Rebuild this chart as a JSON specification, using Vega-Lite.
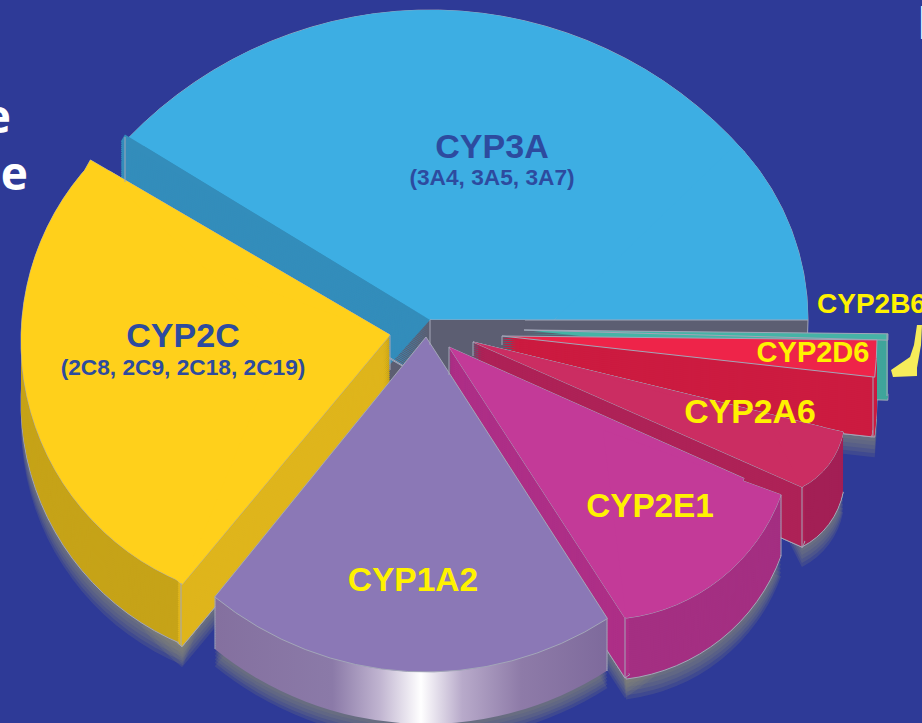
{
"$schema":"https://vega.github.io/schema/vega-lite/v6.json",
"width":922,"height":723,"padding":0,"autosize":"none","background":"#2E3A97",
"config":{"view":{"stroke":null}},
"params":[
{"name":"geo","value":{
"blueA":[430,429.3,419.3,0],"blueB":[554,320,254,0],
"grey1":[430,320,378,0],"grey2":[430,320,95,0],
"blueWide":[430,320,335,0],"blueFar":[430,320,357,62],
"teal":[524,330,364,60],"tealBack":[524,330,350,0],
"red":[502,336,375,60],"redCutN":[502,336,130,60],"redCutF":[502,336,372,60],
"crimCore":[473,342,360,60],"crimTop":[473,342,381,60],"crimLobe":[766.5,417.5,78,60],"crimCutN":[473,342,130,60],"crimCutF":[473,342,360,60],
"magCore":[449,347,323,60],"magLobe":[603,430,189.5,61],"magCutN":[449,347,130,60],"magCutF":[449,347,323,60],
"yelCore":[390,335,325,62],"yelTop":[390,335,347,62],"yelLobe":[282,341,261,62],"yelCutN":[390,335,130,62],"yelCutF":[390,335,325,62],
"purple":[426,337,335,52]
}},
{"name":"edge","value":{
"CYP2C corner":[181,583,63],"CYP2C apex":[390,335,35],
"CYP1A2 left":[215,597,52],"CYP1A2 right":[607,619,52],
"CYP2E1 corner":[625,618,60],"CYP2E1 right":[781,495,61],"CYP2E1 apex":[449,347,28],
"CYP2A6 corner":[802,487,60],"CYP2A6 apex":[473,342,14],
"CYP2D6 corner":[873,377,60],"CYP2D6 apex":[502,336,9],
"CYP2B6 right":[887,334,62],
"CYP3A left":[125,137,45],"CYP3A apex":[430,320,25]
}},
{"name":"lab","value":{
"CYP3A":[492,148,34,"#2D4B9F","center","Liberation Sans"],
"(3A4, 3A5, 3A7)":[492,178,22.7,"#2D4B9F","center","Liberation Sans"],
"CYP2C":[183,337,34,"#2D4B9F","center","Liberation Sans"],
"(2C8, 2C9, 2C18, 2C19)":[183,368,22.7,"#2D4B9F","center","Liberation Sans"],
"CYP1A2":[413,581,33.5,"#FFF200","center","Liberation Sans"],
"CYP2E1":[650,507,33.3,"#FFF200","center","Liberation Sans"],
"CYP2A6":[750,413,33.8,"#FFF200","center","Liberation Sans"],
"CYP2D6":[813,353,29,"#FFF200","center","Liberation Sans"],
"CYP2B6":[817,305,28,"#FFF200","left","Liberation Sans"],
"e":[11,119,46,"#FFFFFF","right","Open Sans"],
"se":[28,176,46,"#FFFFFF","right","Open Sans"],
"I":[917,25,46,"#FFFFFF","left","Open Sans"]
}}
],
"datasets":{
"shadow":[
{"piece":"yelLobe","start":202.3,"end":313.3,"steps":[20,19,18,17,16]},
{"piece":"yelCore","start":219.8,"end":230,"steps":[20,19,18,17,16]},
{"piece":"purple","start":147.2,"end":219.1,"steps":[20,19,18,17,16]},
{"piece":"magLobe","start":110,"end":173,"steps":[20,19,18,17,16]},
{"piece":"magCore","start":125,"end":147,"steps":[20,19,18,17,16]},
{"piece":"crimLobe","start":100.7,"end":153,"steps":[20,19,18,17,16]},
{"piece":"red","start":90.6,"end":96.3,"steps":[20,19,18,17,16]}
],
"pieces":[
{"piece":"blueA","face":"CYP3A top","part":"stroke","start":-46,"end":48.6,"steps":[0]},
{"piece":"blueB","face":"CYP3A top","part":"stroke","start":48.6,"end":90,"steps":[0]},
{"piece":"blueA","face":"CYP3A top","part":"fill","start":-46,"end":48.6,"steps":[0]},
{"piece":"blueB","face":"CYP3A top","part":"fill","start":46,"end":90,"steps":[0]},
{"piece":"grey1","face":"interior","part":"stroke","start":90,"end":105,"steps":[0]},
{"piece":"grey2","face":"interior","part":"fill","start":90,"end":240,"steps":[0]},
{"piece":"blueWide","face":"CYP3A cut","part":"fill","start":222,"end":301.3,"steps":[0]},
{"piece":"blueFar","face":"CYP3A cut","part":"wall","start":300,"end":301.3,"steps":[15,14.5,14,13.5,13,12.5,12,11.5,11,10.5,10,9.5,9,8.5,8,7.5,7,6.5,6,5.5,5,4.5,4,3.5,3,2.5,2,1.5,1,0.5,0]},
{"piece":"teal","face":"CYP2B6 wall","part":"wall","start":90.6,"end":91.6,"steps":[15,14.5,14,13.5,13,12.5,12,11.5,11,10.5,10,9.5,9,8.5,8,7.5,7,6.5,6,5.5,5,4.5,4,3.5,3,2.5,2,1.5,1,0.5]},
{"piece":"tealBack","face":"CYP2B6 top","part":"fill","start":90.6,"end":96,"steps":[0]},
{"piece":"teal","face":"CYP2B6 top","part":"stroke","start":90.6,"end":91.6,"steps":[0]},
{"piece":"red","face":"CYP2D6 wall","part":"wall","start":90.6,"end":96.3,"steps":[15,14.5,14,13.5,13,12.5,12,11.5,11,10.5,10,9.5,9,8.5,8,7.5,7,6.5,6,5.5,5,4.5,4,3.5,3,2.5,2,1.5,1,0.5]},
{"piece":"redCutN","face":"CYP2D6 cut","part":"wall","start":90.6,"end":96.3,"steps":[15,14.5,14,13.5,13,12.5,12,11.5,11,10.5,10,9.5,9,8.5,8,7.5,7,6.5,6,5.5,5,4.5,4,3.5,3,2.5,2,1.5,1,0.5]},
{"piece":"redCutF","face":"CYP2D6 cut","part":"wall","start":95.3,"end":96.3,"steps":[15,14.5,14,13.5,13,12.5,12,11.5,11,10.5,10,9.5,9,8.5,8,7.5,7,6.5,6,5.5,5,4.5,4,3.5,3,2.5,2,1.5,1,0.5]},
{"piece":"red","face":"CYP2D6 top","part":"stroke","start":90.6,"end":96.3,"steps":[0]},
{"piece":"crimCore","face":"CYP2A6 wall","part":"wall","start":103.7,"end":113.8,"steps":[15,14.5,14,13.5,13,12.5,12,11.5,11,10.5,10,9.5,9,8.5,8,7.5,7,6.5,6,5.5,5,4.5,4,3.5,3,2.5,2,1.5,1,0.5]},
{"piece":"crimTop","face":"CYP2A6 wall","part":"wall","start":103.7,"end":105,"steps":[15,14.5,14,13.5,13,12.5,12,11.5,11,10.5,10,9.5,9,8.5,8,7.5,7,6.5,6,5.5,5,4.5,4,3.5,3,2.5,2,1.5,1,0.5]},
{"piece":"crimLobe","face":"CYP2A6 wall","part":"wall","start":100.7,"end":153,"steps":[15,14.5,14,13.5,13,12.5,12,11.5,11,10.5,10,9.5,9,8.5,8,7.5,7,6.5,6,5.5,5,4.5,4,3.5,3,2.5,2,1.5,1,0.5]},
{"piece":"crimCutN","face":"CYP2A6 cut","part":"wall","start":103.7,"end":113.8,"steps":[15,14.5,14,13.5,13,12.5,12,11.5,11,10.5,10,9.5,9,8.5,8,7.5,7,6.5,6,5.5,5,4.5,4,3.5,3,2.5,2,1.5,1,0.5]},
{"piece":"crimCutF","face":"CYP2A6 cut","part":"wall","start":112.8,"end":113.8,"steps":[15,14.5,14,13.5,13,12.5,12,11.5,11,10.5,10,9.5,9,8.5,8,7.5,7,6.5,6,5.5,5,4.5,4,3.5,3,2.5,2,1.5,1,0.5]},
{"piece":"crimCore","face":"CYP2A6 top","part":"stroke","start":103.7,"end":113.8,"steps":[0]},
{"piece":"crimTop","face":"CYP2A6 top","part":"stroke","start":103.7,"end":105,"steps":[0]},
{"piece":"crimLobe","face":"CYP2A6 top","part":"stroke","start":100.7,"end":153,"steps":[0]},
{"piece":"crimCore","face":"CYP2A6 top","part":"fill","start":103.7,"end":113.8,"steps":[0]},
{"piece":"crimTop","face":"CYP2A6 top","part":"fill","start":103.7,"end":105,"steps":[0]},
{"piece":"crimLobe","face":"CYP2A6 top","part":"fill","start":100.7,"end":153,"steps":[0]},
{"piece":"magCore","face":"CYP2E1 wall","part":"wall","start":114,"end":147,"steps":[15,14.5,14,13.5,13,12.5,12,11.5,11,10.5,10,9.5,9,8.5,8,7.5,7,6.5,6,5.5,5,4.5,4,3.5,3,2.5,2,1.5,1,0.5]},
{"piece":"magLobe","face":"CYP2E1 wall","part":"wall","start":110,"end":173,"steps":[15,14.5,14,13.5,13,12.5,12,11.5,11,10.5,10,9.5,9,8.5,8,7.5,7,6.5,6,5.5,5,4.5,4,3.5,3,2.5,2,1.5,1,0.5]},
{"piece":"magCutN","face":"CYP2E1 cut","part":"wall","start":137,"end":147,"steps":[15,14.5,14,13.5,13,12.5,12,11.5,11,10.5,10,9.5,9,8.5,8,7.5,7,6.5,6,5.5,5,4.5,4,3.5,3,2.5,2,1.5,1,0.5]},
{"piece":"magCutF","face":"CYP2E1 cut","part":"wall","start":146,"end":147,"steps":[15,14.5,14,13.5,13,12.5,12,11.5,11,10.5,10,9.5,9,8.5,8,7.5,7,6.5,6,5.5,5,4.5,4,3.5,3,2.5,2,1.5,1,0.5]},
{"piece":"magCore","face":"CYP2E1 top","part":"stroke","start":114,"end":147,"steps":[0]},
{"piece":"magLobe","face":"CYP2E1 top","part":"stroke","start":110,"end":173,"steps":[0]},
{"piece":"magCore","face":"CYP2E1 top","part":"fill","start":114,"end":147,"steps":[0]},
{"piece":"magLobe","face":"CYP2E1 top","part":"fill","start":110,"end":173,"steps":[0]},
{"piece":"yelCore","face":"CYP2C wall","part":"wall","start":219.8,"end":300.3,"steps":[15,14.5,14,13.5,13,12.5,12,11.5,11,10.5,10,9.5,9,8.5,8,7.5,7,6.5,6,5.5,5,4.5,4,3.5,3,2.5,2,1.5,1,0.5]},
{"piece":"yelLobe","face":"CYP2C wall","part":"wall","start":202.3,"end":313.3,"steps":[15,14.5,14,13.5,13,12.5,12,11.5,11,10.5,10,9.5,9,8.5,8,7.5,7,6.5,6,5.5,5,4.5,4,3.5,3,2.5,2,1.5,1,0.5]},
{"piece":"yelCutN","face":"CYP2C cut","part":"wall","start":219.8,"end":230,"steps":[15,14.5,14,13.5,13,12.5,12,11.5,11,10.5,10,9.5,9,8.5,8,7.5,7,6.5,6,5.5,5,4.5,4,3.5,3,2.5,2,1.5,1,0.5]},
{"piece":"yelCutF","face":"CYP2C cut","part":"wall","start":219.8,"end":220.8,"steps":[15,14.5,14,13.5,13,12.5,12,11.5,11,10.5,10,9.5,9,8.5,8,7.5,7,6.5,6,5.5,5,4.5,4,3.5,3,2.5,2,1.5,1,0.5]},
{"piece":"yelCore","face":"CYP2C top","part":"stroke","start":219.8,"end":300.3,"steps":[0]},
{"piece":"yelTop","face":"CYP2C top","part":"stroke","start":290,"end":300.3,"steps":[0]},
{"piece":"yelLobe","face":"CYP2C top","part":"stroke","start":202.3,"end":313.3,"steps":[0]},
{"piece":"yelCore","face":"CYP2C top","part":"fill","start":219.8,"end":300.3,"steps":[0]},
{"piece":"yelTop","face":"CYP2C top","part":"fill","start":290,"end":300.3,"steps":[0]},
{"piece":"yelLobe","face":"CYP2C top","part":"fill","start":202.3,"end":313.3,"steps":[0]}
],
"purpleWall":[{"piece":"purple","face":"CYP1A2 wall","part":"wall","start":147.2,"end":219.1,"steps":[15,14.5,14,13.5,13,12.5,12,11.5,11,10.5,10,9.5,9,8.5,8,7.5,7,6.5,6,5.5,5,4.5,4,3.5,3,2.5,2,1.5,1,0.5]}],
"purpleTop":[{"piece":"purple","face":"CYP1A2 top","part":"stroke","start":147.2,"end":219.1,"steps":[0]}],
"edges":[{"edge":"CYP2C corner"},{"edge":"CYP2C apex"},{"edge":"CYP1A2 left"},{"edge":"CYP1A2 right"},{"edge":"CYP2E1 corner"},{"edge":"CYP2E1 right"},{"edge":"CYP2E1 apex"},{"edge":"CYP2A6 corner"},{"edge":"CYP2A6 apex"},{"edge":"CYP2D6 corner"},{"edge":"CYP2D6 apex"},{"edge":"CYP2B6 right"},{"edge":"CYP3A left"},{"edge":"CYP3A apex"}],
"labels":[{"label":"CYP3A"},{"label":"(3A4, 3A5, 3A7)"},{"label":"CYP2C"},{"label":"(2C8, 2C9, 2C18, 2C19)"},{"label":"CYP1A2"},{"label":"CYP2E1"},{"label":"CYP2A6"},{"label":"CYP2D6"},{"label":"CYP2B6"},{"label":"e"},{"label":"se"},{"label":"I"}]
},
"layer":[
{"data":{"name":"shadow"},
 "transform":[{"flatten":["steps"],"as":["step"]}],
 "mark":{"type":"arc","fill":"#858578","opacity":0.2,
  "outerRadius":{"expr":"geo[datum.piece][2]"},
  "xOffset":{"expr":"geo[datum.piece][0]-461"},
  "yOffset":{"expr":"geo[datum.piece][1]-361.5+datum.step/15*geo[datum.piece][3]"}},
 "encoding":{
  "theta":{"field":"start","type":"quantitative","scale":{"domain":[0,360],"range":[0,6.283185307],"zero":false,"nice":false},"stack":null},
  "theta2":{"field":"end"}
 }},
{"data":{"name":"pieces"},
 "transform":[{"flatten":["steps"],"as":["step"]}],
 "mark":{"type":"arc","strokeWidth":1,
  "outerRadius":{"expr":"geo[datum.piece][2]"},
  "xOffset":{"expr":"geo[datum.piece][0]-461"},
  "yOffset":{"expr":"geo[datum.piece][1]-361.5+datum.step/15*geo[datum.piece][3]"}},
 "encoding":{
  "theta":{"field":"start","type":"quantitative","scale":{"domain":[0,360],"range":[0,6.283185307],"zero":false,"nice":false},"stack":null},
  "theta2":{"field":"end"},
  "color":{"field":"face","type":"nominal","legend":null,"scale":{
   "domain":["CYP3A top","CYP3A cut","interior","CYP2B6 top","CYP2B6 wall","CYP2D6 top","CYP2D6 cut","CYP2D6 wall","CYP2A6 top","CYP2A6 cut","CYP2A6 wall","CYP2E1 top","CYP2E1 cut","CYP2E1 wall","CYP2C top","CYP2C cut","CYP2C wall"],
   "range":["#3DAEE3","#338DBB","#5C5E72","#46B3A6","#3FA59B","#EE2449","#CC1B40","#CC1B40","#CB2D62","#AE2257","#A31F55","#C33A98","#AE2F87","#A42F82","#FFD01B","#DFB51C","#C6A318"]}},
  "stroke":{"condition":{"test":"datum.part==='stroke'||(datum.part==='wall'&&datum.step===15)","value":"#A3A6B8"},"value":null}
 }},
{"data":{"name":"purpleWall"},
 "transform":[{"flatten":["steps"],"as":["step"]}],
 "mark":{"type":"arc","strokeWidth":1,
  "color":{"gradient":"linear","x1":0,"x2":1,"y1":0,"y2":0,"stops":[{"offset":0,"color":"#84709F"},{"offset":0.3,"color":"#8B7AA8"},{"offset":0.42,"color":"#C0B4D0"},{"offset":0.525,"color":"#FFFFFF"},{"offset":0.63,"color":"#B8AACA"},{"offset":0.78,"color":"#8E7BA8"},{"offset":1,"color":"#7E6A9C"}]},
  "outerRadius":{"expr":"geo[datum.piece][2]"},
  "xOffset":{"expr":"geo[datum.piece][0]-461"},
  "yOffset":{"expr":"geo[datum.piece][1]-361.5+datum.step/15*geo[datum.piece][3]"}},
 "encoding":{
  "theta":{"field":"start","type":"quantitative","scale":{"domain":[0,360],"range":[0,6.283185307],"zero":false,"nice":false},"stack":null},
  "theta2":{"field":"end"}
 }},
{"data":{"name":"purpleTop"},
 "transform":[{"flatten":["steps"],"as":["step"]}],
 "mark":{"type":"arc","strokeWidth":1,"fill":"#8B78B6","stroke":"#A3A6B8",
  "outerRadius":{"expr":"geo[datum.piece][2]"},
  "xOffset":{"expr":"geo[datum.piece][0]-461"},
  "yOffset":{"expr":"geo[datum.piece][1]-361.5"}},
 "encoding":{
  "theta":{"field":"start","type":"quantitative","scale":{"domain":[0,360],"range":[0,6.283185307],"zero":false,"nice":false},"stack":null},
  "theta2":{"field":"end"}
 }},
{"data":{"name":"edges"},
 "mark":{"type":"point","filled":false,"opacity":1,"stroke":"#A3A6B8","strokeWidth":1,"shape":"M0,-1L0,1",
  "size":{"expr":"edge[datum.edge][2]*edge[datum.edge][2]"},
  "xOffset":{"expr":"edge[datum.edge][0]-461"},
  "yOffset":{"expr":"edge[datum.edge][1]+edge[datum.edge][2]/2-361.5"}},
 "encoding":{}},
{"data":{"name":"labels"},
 "mark":{"type":"text","fontWeight":"bold","baseline":"middle",
  "font":{"expr":"lab[datum.label][5]"},
  "fontSize":{"expr":"lab[datum.label][2]"},
  "fill":{"expr":"lab[datum.label][3]"},
  "align":{"expr":"lab[datum.label][4]"},
  "xOffset":{"expr":"lab[datum.label][0]-461"},
  "yOffset":{"expr":"lab[datum.label][1]-361.5"}},
 "encoding":{"text":{"field":"label"}}},
{"data":{"values":[{"pointer":"CYP2B6"}]},
 "mark":{"type":"point","filled":true,"opacity":1,"color":"#F6EC5A","size":3600,"xOffset":446,"yOffset":-11.5,
  "shape":"M.333,-.833L.5,-.833L.467,-.167L.333,.6L.333,.867L-.467,.9L-.533,.667L.1,.233L.233,-.167Z"},
 "encoding":{}}
]
}
